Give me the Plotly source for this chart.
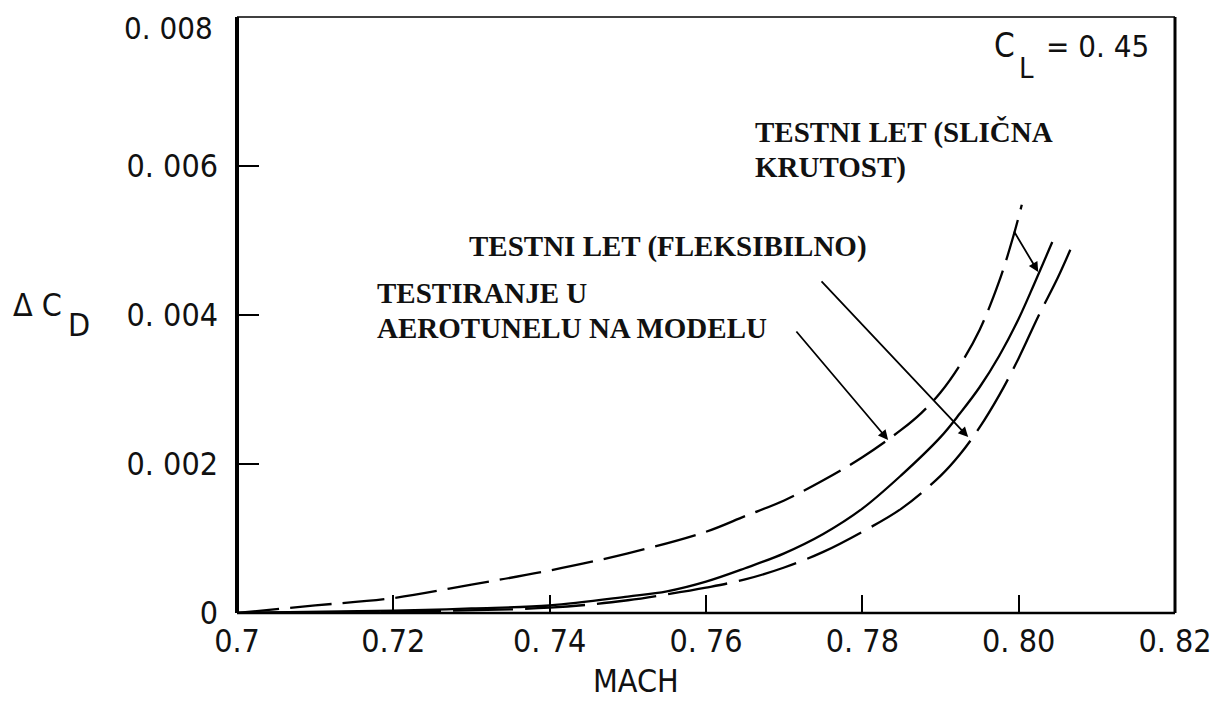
import plotly.graph_objects as go

# --- data ---
mach_tunnel = [0.700, 0.710, 0.720, 0.730, 0.740, 0.750, 0.760, 0.765, 0.770, 0.775,
               0.780, 0.785, 0.7875, 0.790, 0.7925, 0.795, 0.7975, 0.7993, 0.8004]
cd_tunnel = [0.0, 0.0001, 0.0002, 0.00038, 0.00057, 0.0008, 0.00109, 0.0013, 0.00151, 0.00178,
             0.00209, 0.00246, 0.00268, 0.00296, 0.00333, 0.0038, 0.00445, 0.00505, 0.00548]

mach_similar = [0.700, 0.720, 0.730, 0.740, 0.750, 0.755, 0.760, 0.765, 0.770, 0.775,
                0.780, 0.785, 0.790, 0.7925, 0.795, 0.7975, 0.800, 0.802, 0.8043]
cd_similar = [0.0, 0.00003, 0.00006, 0.0001, 0.00022, 0.00029, 0.00042, 0.0006, 0.0008, 0.00106,
              0.0014, 0.00185, 0.00236, 0.00268, 0.00303, 0.00345, 0.00395, 0.00442, 0.00498]

mach_flex = [0.700, 0.720, 0.740, 0.750, 0.755, 0.760, 0.765, 0.770, 0.775, 0.780,
             0.785, 0.790, 0.7925, 0.795, 0.7975, 0.800, 0.8025, 0.805, 0.807]
cd_flex = [0.0, 0.00002, 0.00007, 0.00017, 0.00025, 0.00034, 0.00045, 0.00061, 0.00082, 0.00109,
           0.0014, 0.00184, 0.00213, 0.00249, 0.00292, 0.00342, 0.00398, 0.0045, 0.00497]

x_tickvals = [0.70, 0.72, 0.74, 0.76, 0.78, 0.80, 0.82]
x_ticktext = ["0.7", "0.72", "0. 74", "0. 76", "0. 78", "0. 80", "0. 82"]
y_tickvals = [0.0, 0.002, 0.004, 0.006, 0.008]
y_ticktext = ["0", "0. 002", "0. 004", "0. 006", "0. 008"]

label_tunnel = ["TESTIRANJE U", "AEROTUNELU NA MODELU"]
label_flex = "TESTNI LET (FLEKSIBILNO)"
label_similar = ["TESTNI LET (SLIČNA", "KRUTOST)"]

SANS = "Liberation Sans Narrow, DejaVu Sans Condensed, Liberation Sans, sans-serif"
SERIF = "Liberation Serif, DejaVu Serif, serif"

# page has an 8px body margin: figure is placed so the plot area sits at
# page pixels x 237..1175, y 17..613
OFF = 8
W, H = 1223 - 2 * OFF, 709 - 2 * OFF
L, T = 237 - OFF, 17 - OFF
R, B = W - (1175 - OFF), H - (613 - OFF)
pw, ph = W - L - R, H - T - B

def px(xp):
    return (xp - 237) / pw

def py(yp):
    return (613 - yp) / ph

fig = go.Figure()
fig.add_trace(go.Scatter(x=mach_tunnel, y=cd_tunnel, mode="lines", line_shape="spline",
                         line=dict(color="black", width=2.3, dash="42px,11px"), showlegend=False))
fig.add_trace(go.Scatter(x=mach_similar, y=cd_similar, mode="lines", line_shape="spline",
                         line=dict(color="black", width=2.3), showlegend=False))
fig.add_trace(go.Scatter(x=mach_flex, y=cd_flex, mode="lines", line_shape="spline",
                         line=dict(color="black", width=2.3, dash="60px,12px"), showlegend=False))

# frame lines
fig.add_shape(type="line", xref="paper", yref="paper", x0=0, x1=0, y0=0, y1=1,
              line=dict(color="black", width=4))
fig.add_shape(type="line", xref="paper", yref="paper", x0=0, x1=1, y0=0, y1=0,
              line=dict(color="black", width=2.5))
fig.add_shape(type="line", xref="paper", yref="paper", x0=0, x1=1, y0=1, y1=1,
              line=dict(color="black", width=1.5))
fig.add_shape(type="line", xref="paper", yref="paper", x0=1, x1=1, y0=0, y1=1,
              line=dict(color="black", width=3))

ann = []

def txt(x, y, t, size=29, family=SERIF, bold=True, xanchor="left"):
    return dict(x=x, y=y, xref="x", yref="y", text=("<b>%s</b>" % t) if bold else t,
                showarrow=False, xanchor=xanchor, yanchor="middle",
                font=dict(family=family, size=size, color="#111"))

def ptxt(xp, yp, t, size, xanchor="center"):
    return dict(x=px(xp), y=py(yp), xref="paper", yref="paper", text=t, showarrow=False,
                xanchor=xanchor, yanchor="middle", borderpad=0,
                font=dict(family=SANS, size=size, color="#111"))

ann.append(txt(0.76603, 0.006456, label_similar[0]))
ann.append(txt(0.76603, 0.005987, label_similar[1]))
ann.append(txt(0.72943, 0.004926, label_flex))
ann.append(txt(0.71766, 0.004295, label_tunnel[0]))
ann.append(txt(0.71766, 0.003826, label_tunnel[1]))

def arrow(x0, y0, x1, y1):
    return dict(x=x1, y=y1, ax=x0, ay=y0, xref="x", yref="y", axref="x", ayref="y",
                text="", showarrow=True, arrowhead=2, arrowsize=1.1, arrowwidth=1.8,
                arrowcolor="black", standoff=0, startstandoff=0)

ann.append(arrow(0.77140, 0.003799, 0.78330, 0.002322))
ann.append(arrow(0.77460, 0.00447, 0.79354, 0.002362))
ann.append(arrow(0.79930, 0.005141, 0.80250, 0.004577))

# top y tick label drawn slightly below the frame corner, as in the reference
ann.append(ptxt(214, 28, y_ticktext[-1], 31, xanchor="right"))
y_ticktext_axis = y_ticktext[:-1] + [""]

# C_L = 0.45
ann.append(ptxt(1004, 46, "C", 33))
ann.append(ptxt(1026, 68, "L", 29))
ann.append(ptxt(1045, 46, "= 0. 45", 31, xanchor="left"))
# axis titles
ann.append(ptxt(636, 681, "MACH", 32))
ann.append(ptxt(37, 305, "Δ C", 32))
ann.append(ptxt(79, 325, "D", 32))

fig.update_layout(
    width=W, height=H,
    margin=dict(l=L, r=R, t=T, b=B, autoexpand=False),
    paper_bgcolor="white", plot_bgcolor="white",
    annotations=ann,
    xaxis=dict(range=[0.7, 0.82], tickvals=x_tickvals, ticktext=x_ticktext,
               ticks="inside", ticklen=18, tickwidth=2, tickcolor="black",
               showgrid=False, zeroline=False, showline=False, automargin=False,
               ticklabelstandoff=6, ticklabeloverflow="allow",
               tickfont=dict(family=SANS, size=32, color="#111")),
    yaxis=dict(range=[-0.000001, 0.008001], tickvals=y_tickvals, ticktext=y_ticktext_axis,
               ticks="inside", ticklen=22, tickwidth=2, tickcolor="black",
               showgrid=False, zeroline=False, showline=False, automargin=False,
               ticklabelstandoff=18, ticklabeloverflow="allow",
               tickfont=dict(family=SANS, size=32, color="#111")),
)

fig.write_html("out.html")
